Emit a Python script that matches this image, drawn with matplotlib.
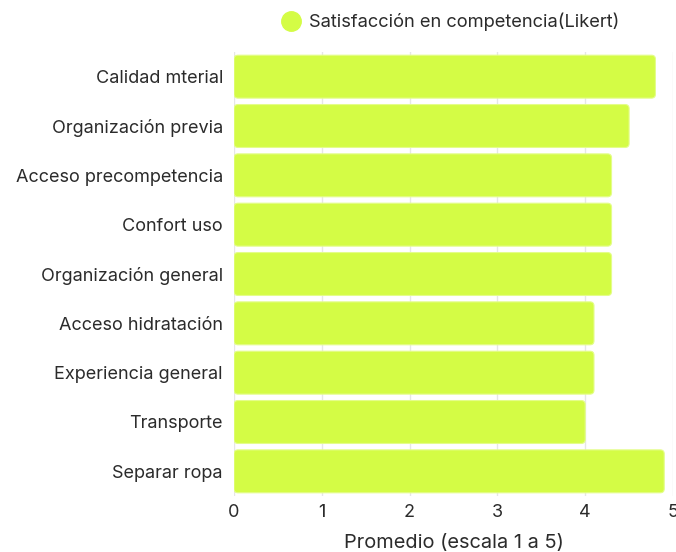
import matplotlib.pyplot as plt
from matplotlib.patches import FancyBboxPatch
from matplotlib.lines import Line2D

plt.rcParams["font.family"] = ["Inter", "DejaVu Sans"]

categories = [
    "Calidad mterial",
    "Organización previa",
    "Acceso precompetencia",
    "Confort uso",
    "Organización general",
    "Acceso hidratación",
    "Experiencia general",
    "Transporte",
    "Separar ropa",
]
scores = [4.8, 4.5, 4.3, 4.3, 4.3, 4.1, 4.1, 4.0, 4.9]
series_name = "Satisfacción en competencia(Likert)"

bar_color = "#d4fc45"
text_color = "#2b2b2b"

fig = plt.figure(figsize=(6.76, 5.52), dpi=100)
ax = fig.add_axes([234 / 676, 1 - 496 / 552, (673 - 234) / 676, (496 - 52) / 552])

ypos = list(range(len(categories)))
bars = ax.barh(ypos, scores, height=0.87, color=bar_color)

# swap plain rectangles for slightly rounded ones
for rect in bars:
    rect.set_visible(False)
    x, y = rect.get_xy()
    box = FancyBboxPatch(
        (x, y), rect.get_width(), rect.get_height(),
        boxstyle="round,pad=0,rounding_size=0.045",
        mutation_aspect=1.8,
        facecolor=bar_color, edgecolor="#e4fd8a", linewidth=0.8, zorder=2,
    )
    ax.add_patch(box)

ax.set_xlim(0, 5)
ax.set_ylim(len(categories) - 0.5, -0.5)
ax.set_yticks(ypos)
ax.set_yticklabels(categories)
ax.set_xticks(range(6))
ax.tick_params(length=0, labelsize=13, labelcolor=text_color)
ax.tick_params(axis="y", pad=8)
ax.tick_params(axis="x", pad=6)
ax.grid(axis="x", color="#e6e6e6", linewidth=1, zorder=0)
ax.set_axisbelow(True)
for s in ax.spines.values():
    s.set_visible(False)

ax.set_xlabel("Promedio (escala 1 a 5)", fontsize=14.4, color=text_color, labelpad=9)

handle = Line2D([], [], marker="o", linestyle="none", markersize=14,
                markerfacecolor=bar_color, markeredgecolor=bar_color)
fig.legend([handle], [series_name], loc="center", bbox_to_anchor=(450 / 676, 1 - 22 / 552),
           frameon=False, fontsize=13.2, labelcolor=text_color, handletextpad=0.4,
           borderpad=0, handlelength=1.2)

fig.savefig("out.png", dpi=100)
